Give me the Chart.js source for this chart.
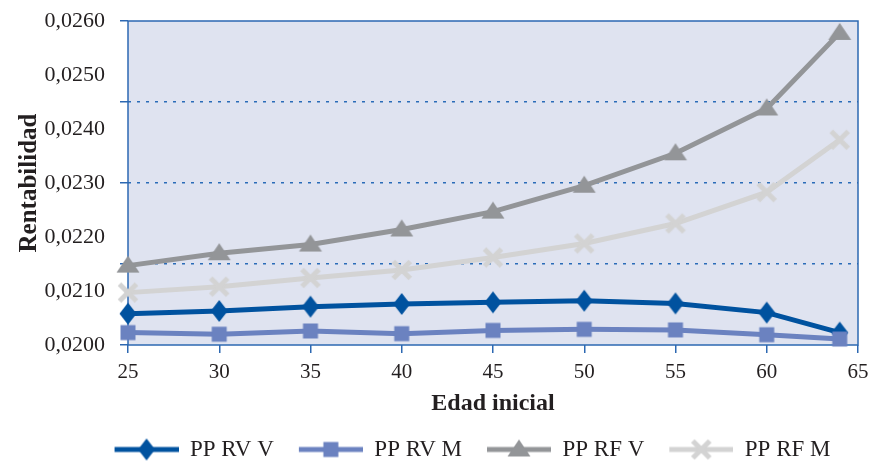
<!DOCTYPE html>
<html>
<head>
<meta charset="utf-8">
<script src="https://cdn.jsdelivr.net/npm/chart.js@4.4.1/dist/chart.umd.min.js"></script>
<style>
  html, body { margin: 0; padding: 0; background: #fff; }
  #wrap { width: 875px; height: 463px; }
</style>
</head>
<body>
<div id="wrap"><canvas id="lineChart"></canvas></div>
<script>
// Edad inicial (x) y rentabilidad de cada serie
const edades = [25, 30, 35, 40, 45, 50, 55, 60, 64];
const ppRvV = [0.02058, 0.02063, 0.02071, 0.02076, 0.02079, 0.02082, 0.02077, 0.02060, 0.02023];
const ppRvM = [0.02023, 0.02020, 0.02026, 0.02021, 0.02027, 0.02029, 0.02028, 0.02019, 0.02011];
const ppRfV = [0.02147, 0.02170, 0.02186, 0.02214, 0.02247, 0.02295, 0.02355, 0.02438, 0.02578];
const ppRfM = [0.02097, 0.02108, 0.02124, 0.02139, 0.02162, 0.02188, 0.02225, 0.02283, 0.02380];

// y ticks every 0,0005: labels on multiples of 0,0010, dotted lines on multiples of 0,0015
const yTickValues = [0.0200, 0.0205, 0.0210, 0.0215, 0.0220, 0.0225, 0.0230, 0.0235, 0.0240, 0.0245, 0.0250, 0.0255, 0.0260];
const xTickStep = 5;

const FONT = "'Liberation Serif', 'Times New Roman', serif";
const TEXT = '#231f20';
const AXIS_BLUE = '#2d68b2';

function toPoints(values) {
    return edades.map(function(e, i) { return { x: e, y: values[i] }; });
}

// draw one marker shape on a 2d context
function drawMarker(ctx, shape, cx, cy, color) {
    ctx.fillStyle = color;
    ctx.strokeStyle = color;
    ctx.beginPath();
    if (shape === 'diamond') {
        ctx.moveTo(cx, cy - 11);
        ctx.lineTo(cx + 8.5, cy);
        ctx.lineTo(cx, cy + 11);
        ctx.lineTo(cx - 8.5, cy);
        ctx.closePath();
        ctx.fill();
    } else if (shape === 'square') {
        ctx.rect(cx - 7.5, cy - 7.5, 15, 15);
        ctx.fill();
    } else if (shape === 'triangle') {
        ctx.moveTo(cx, cy - 10);
        ctx.lineTo(cx + 11.5, cy + 7);
        ctx.lineTo(cx - 11.5, cy + 7);
        ctx.closePath();
        ctx.fill();
    } else {
        ctx.lineWidth = 5;
        ctx.moveTo(cx - 8.5, cy - 8.5);
        ctx.lineTo(cx + 8.5, cy + 8.5);
        ctx.moveTo(cx + 8.5, cy - 8.5);
        ctx.lineTo(cx - 8.5, cy + 8.5);
        ctx.stroke();
    }
}

// legend icon: line with marker, blank strip on the left for spacing
function makeLegendIcon(color, shape) {
    const c = document.createElement('canvas');
    c.width = 77;
    c.height = 26;
    const ctx = c.getContext('2d');
    ctx.strokeStyle = color;
    ctx.lineWidth = 5;
    ctx.beginPath();
    ctx.moveTo(13, 13);
    ctx.lineTo(77, 13);
    ctx.stroke();
    drawMarker(ctx, shape, 45, 13, color);
    return c;
}

// marker images for the data points
function makeMarker(color, shape) {
    const c = document.createElement('canvas');
    c.width = 26;
    c.height = 26;
    drawMarker(c.getContext('2d'), shape, 13, 13, color);
    return c;
}

const series = [
    { label: 'PP RV V', data: ppRvV, color: '#00529f', shape: 'diamond', order: 4 },
    { label: 'PP RV M', data: ppRvM, color: '#6b82c0', shape: 'square', order: 3 },
    { label: 'PP RF V', data: ppRfV, color: '#939598', shape: 'triangle', order: 2 },
    { label: 'PP RF M', data: ppRfM, color: '#d3d3d3', shape: 'cross', order: 1 }
];

const plotFrame = {
    id: 'plotFrame',
    beforeDraw: function(chart) {
        const a = chart.chartArea;
        const ctx = chart.ctx;
        ctx.save();
        ctx.fillStyle = '#dfe3f0';
        ctx.fillRect(a.left, a.top, a.right - a.left, a.bottom - a.top);
        ctx.restore();
    },
    beforeDatasetsDraw: function(chart) {
        const a = chart.chartArea;
        const ctx = chart.ctx;
        ctx.save();
        ctx.strokeStyle = AXIS_BLUE;
        ctx.lineWidth = 1.5;
        ctx.strokeRect(a.left, a.top, a.right - a.left, a.bottom - a.top);
        ctx.restore();
    },
    afterLayout: function(chart) {
        // push the legend row a little lower and to the right
        chart.legend.top += 8;
        chart.legend.bottom += 8;
        chart.legend.left += 37;
        chart.legend.right += 37;
    }
};

document.addEventListener('DOMContentLoaded', function() {
    const ctx = document.getElementById('lineChart').getContext('2d');

    const datasets = series.map(function(s) {
        return {
            label: s.label,
            data: toPoints(s.data),
            borderColor: s.color,
            backgroundColor: s.color,
            borderWidth: 5,
            pointStyle: makeMarker(s.color, s.shape),
            legendIcon: makeLegendIcon(s.color, s.shape),
            tension: 0,
            clip: false,
            order: s.order
        };
    });

    new Chart(ctx, {
        type: 'line',
        data: { datasets: datasets },
        plugins: [plotFrame],
        options: {
            responsive: true,
            maintainAspectRatio: false,
            animation: false,
            layout: { padding: { top: 21, right: 17, left: 0, bottom: 0 } },
            scales: {
                x: {
                    type: 'linear',
                    min: 25,
                    max: 65,
                    border: { display: false },
                    grid: { drawOnChartArea: false, drawTicks: true, tickLength: 8, color: AXIS_BLUE, lineWidth: 1.5 },
                    ticks: {
                        stepSize: xTickStep,
                        color: TEXT,
                        padding: 7,
                        font: { family: FONT, size: 21 }
                    },
                    title: {
                        display: true,
                        text: 'Edad inicial',
                        color: TEXT,
                        padding: 0,
                        font: { family: FONT, size: 24, weight: 'bold' }
                    },
                    afterFit: function(scale) {
                        scale.height = 73;
                        scale.paddingLeft = 0;
                        scale.paddingRight = 0;
                    }
                },
                y: {
                    min: 0.0200,
                    max: 0.0260,
                    afterBuildTicks: function(scale) {
                        scale.ticks = yTickValues.map(function(v) { return { value: v }; });
                    },
                    border: { display: false, dash: [3, 6] },
                    grid: {
                        drawTicks: true,
                        tickLength: 8,
                        lineWidth: 1.5,
                        tickBorderDash: [],
                        color: function(c) {
                            const i = c.index;
                            if (i === 0 || i === yTickValues.length - 1) return 'rgba(0,0,0,0)';
                            return i % 3 === 0 ? '#2a6cb8' : 'rgba(0,0,0,0)';
                        },
                        tickColor: function(c) {
                            return c.index % 3 === 0 ? AXIS_BLUE : 'rgba(0,0,0,0)';
                        }
                    },
                    ticks: {
                        autoSkip: false,
                        color: TEXT,
                        padding: 15,
                        font: { family: FONT, size: 22 },
                        callback: function(value, index) {
                            return index % 2 === 0 ? value.toFixed(4).replace('.', ',') : '';
                        }
                    },
                    title: {
                        display: true,
                        text: 'Rentabilidad',
                        color: TEXT,
                        padding: { top: 15, bottom: 0 },
                        font: { family: FONT, size: 25, weight: 'bold' }
                    },
                    afterFit: function(scale) {
                        scale.width = 128;
                        scale.paddingTop = 0;
                        scale.paddingBottom = 0;
                    }
                }
            },
            plugins: {
                legend: {
                    position: 'bottom',
                    labels: {
                        usePointStyle: true,
                        pointStyleWidth: 77,
                        padding: 12,
                        color: TEXT,
                        font: { family: FONT, size: 23 },
                        sort: function(a, b) { return a.datasetIndex - b.datasetIndex; },
                        generateLabels: function(chart) {
                            const items = Chart.defaults.plugins.legend.labels.generateLabels(chart);
                            items.forEach(function(item) {
                                item.pointStyle = chart.data.datasets[item.datasetIndex].legendIcon;
                            });
                            return items;
                        }
                    }
                },
                tooltip: { enabled: false }
            }
        }
    });
});
</script>
</body>
</html>
